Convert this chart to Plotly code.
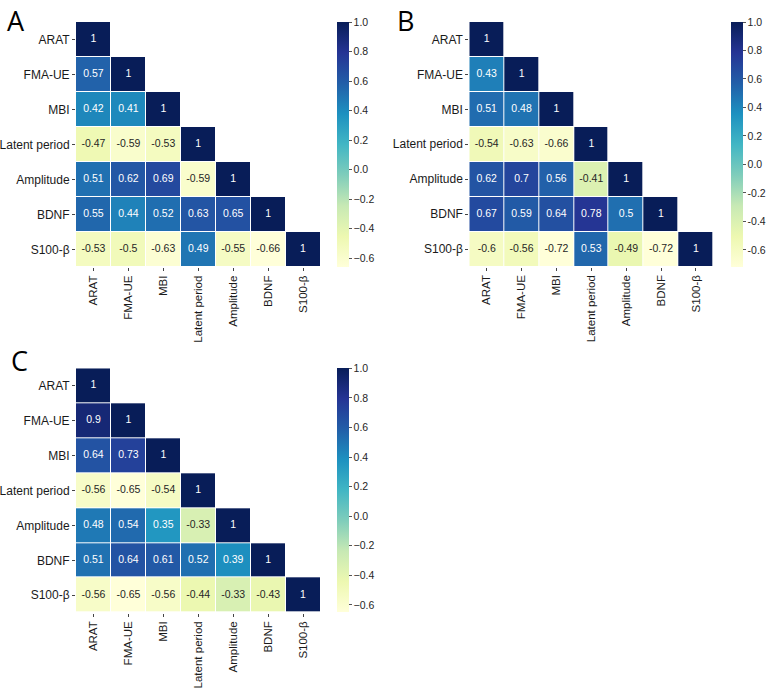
import plotly.graph_objects as go
from plotly.colors import sample_colorscale, sequential
import re

labels = ["ARAT", "FMA-UE", "MBI", "Latent period", "Amplitude", "BDNF", "S100-β"]

# lower-triangle correlation values (row by row, excluding diagonal = 1)
corr_A = [
    [0.57],
    [0.42, 0.41],
    [-0.47, -0.59, -0.53],
    [0.51, 0.62, 0.69, -0.59],
    [0.55, 0.44, 0.52, 0.63, 0.65],
    [-0.53, -0.5, -0.63, 0.49, -0.55, -0.66],
]
corr_B = [
    [0.43],
    [0.51, 0.48],
    [-0.54, -0.63, -0.66],
    [0.62, 0.7, 0.56, -0.41],
    [0.67, 0.59, 0.64, 0.78, 0.5],
    [-0.6, -0.56, -0.72, 0.53, -0.49, -0.72],
]
corr_C = [
    [0.9],
    [0.64, 0.73],
    [-0.56, -0.65, -0.54],
    [0.48, 0.54, 0.35, -0.33],
    [0.51, 0.64, 0.61, 0.52, 0.39],
    [-0.56, -0.65, -0.56, -0.44, -0.33, -0.43],
]
panel_letters = ["A", "B", "C"]

W, H = 767, 689
FONT = "Liberation Sans, Arial, sans-serif"
cscale = sequential.YlGnBu


def full_matrix(tri):
    n = len(labels)
    z = [[None] * n for _ in range(n)]
    for i in range(n):
        z[i][i] = 1.0
    for r, row in enumerate(tri):
        for c, v in enumerate(row):
            z[r + 1][c] = v
    return z


def rel_lum(rgb_str):
    vals = [float(v) / 255 for v in re.findall(r"[\d.]+", rgb_str)[:3]]
    out = []
    for v in vals:
        out.append(v / 12.92 if v <= 0.03928 else ((v + 0.055) / 1.055) ** 2.4)
    return 0.2126 * out[0] + 0.7152 * out[1] + 0.0722 * out[2]


def fmt(v):
    return format(v, ".2g")


# pixel boxes for panels: (x0, x1, ytop, ybottom), colorbar x, letter centre x / top y
panels = [
    dict(box=(76, 320.5, 22, 267), cbx=337, letter=(16, 0)),
    dict(box=(469.3, 713.3, 22, 266.5), cbx=731, letter=(405.5, 0)),
    dict(box=(76, 320.5, 368.3, 612.7), cbx=337, letter=(19.5, 340)),
]

fig = go.Figure()
layout = dict(
    width=W, height=H,
    margin=dict(l=0, r=0, t=0, b=0, autoexpand=False),
    paper_bgcolor="white", plot_bgcolor="white",
    font=dict(family=FONT, color="#262626"),
    showlegend=False,
    annotations=[],
)

for k, (tri, p) in enumerate(zip([corr_A, corr_B, corr_C], panels)):
    z = full_matrix(tri)
    vals = [v for row in z for v in row if v is not None]
    zmin, zmax = min(vals), 1.0
    sfx = "" if k == 0 else str(k + 1)
    x0, x1, yt, yb = p["box"]
    n = len(labels)
    fig.add_trace(go.Heatmap(
        z=z, x=list(range(n)), y=list(range(n)),
        colorscale="YlGnBu", zmin=zmin, zmax=zmax,
        xgap=1, ygap=1, hoverongaps=False,
        xaxis="x" + sfx, yaxis="y" + sfx,
        colorbar=dict(
            x=p["cbx"] / W, xanchor="left", xref="paper", xpad=0, ypad=0,
            y=1 - yt / H, yanchor="top", yref="paper",
            lenmode="pixels", len=yb - yt, thickness=12,
            outlinewidth=0,
            tickvals=[-0.6, -0.4, -0.2, 0.0, 0.2, 0.4, 0.6, 0.8, 1.0],
            ticktext=["−0.6", "−0.4", "−0.2", "0.0", "0.2", "0.4", "0.6", "0.8", "1.0"] if k != 1
            else ["-0.6", "-0.4", "-0.2", "0.0", "0.2", "0.4", "0.6", "0.8", "1.0"],
            ticks="outside", ticklen=3, tickcolor="#555",
            tickfont=dict(size=10.5, color="#262626", family=FONT),
        ),
    ))
    tx, ty, tt, tc = [], [], [], []
    for r in range(n):
        for c in range(n):
            v = z[r][c]
            if v is None:
                continue
            col = sample_colorscale(cscale, [(v - zmin) / (zmax - zmin)])[0]
            lum = rel_lum(col)
            tx.append(c)
            ty.append(r)
            tt.append(fmt(v))
            tc.append("#262626" if lum > 0.408 else "white")
    fig.add_trace(go.Scatter(
        x=tx, y=ty, text=tt, mode="text",
        textfont=dict(size=10.5, color=tc, family=FONT),
        hoverinfo="skip", xaxis="x" + sfx, yaxis="y" + sfx,
    ))
    layout["xaxis" + sfx] = dict(
        domain=[x0 / W, x1 / W], range=[-0.5, n - 0.5], automargin=False,
        anchor="y" + sfx, tickvals=list(range(n)), ticktext=labels,
        tickangle=-90, ticks="outside", ticklen=3, tickcolor="#444",
        showgrid=False, zeroline=False, showline=False,
        tickfont=dict(size=11.5, color="#1a1a1a", family=FONT), fixedrange=True,
    )
    layout["yaxis" + sfx] = dict(
        domain=[1 - yb / H, 1 - yt / H], range=[n - 0.5, -0.5], automargin=False,
        anchor="x" + sfx, tickvals=list(range(n)), ticktext=labels,
        ticks="outside", ticklen=3, tickcolor="#444",
        showgrid=False, zeroline=False, showline=False,
        tickfont=dict(size=12, color="#1a1a1a", family=FONT), fixedrange=True,
    )
    lx, ly = p["letter"]
    layout["annotations"].append(dict(
        text=panel_letters[k], x=lx / W, y=1 - ly / H, xref="paper", yref="paper",
        xanchor="center", yanchor="top", showarrow=False,
        font=dict(size=27, color="black", family="Open Sans, sans-serif"),
    ))

fig.update_layout(**layout)
fig.write_html("out.html")
